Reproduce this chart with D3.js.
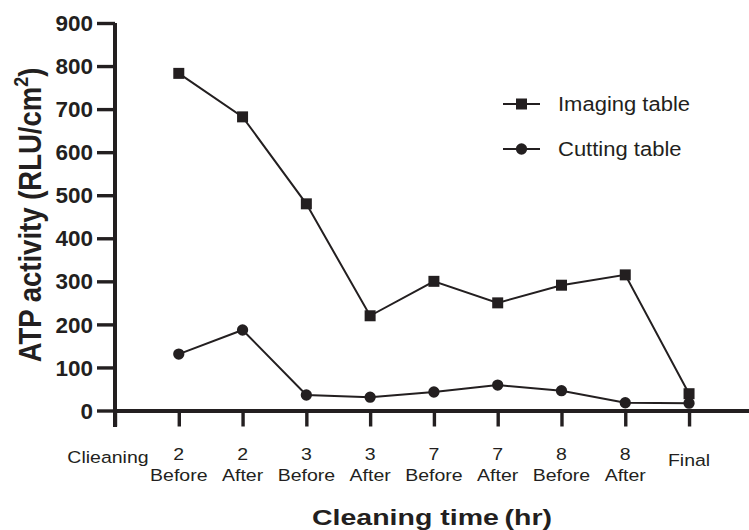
<!DOCTYPE html>
<html>
<head>
<meta charset="utf-8">
<script src="https://cdn.jsdelivr.net/npm/d3@7/dist/d3.min.js"></script>
<style>
  html, body { margin: 0; padding: 0; background: #fff; }
  svg { display: block; }
  text { font-family: Arial, "Liberation Sans", Helvetica, sans-serif; fill: #231f20; }
</style>
</head>
<body>
<svg id="chart" width="749" height="530"></svg>
<script>
/* ATP activity on imaging vs cutting table over the cleaning timeline */
const catTop    = ["Clieaning", "2", "2", "3", "3", "7", "7", "8", "8", "Final"];
const catBottom = ["", "Before", "After", "Before", "After", "Before", "After", "Before", "After", ""];
const imaging   = [null, 783, 682, 480, 220, 300, 250, 291, 315, 39];
const cutting   = [null, 131, 187, 36, 31, 43, 59, 46, 18, 17];
const yTicks    = [0, 100, 200, 300, 400, 500, 600, 700, 800, 900];
const seriesNames = ["Imaging table", "Cutting table"];

const INK = "#231f20";
const SQ = 0.88; // glyphs in the figure look slightly squashed vertically

const svg = d3.select("#chart");

const x = d3.scaleLinear().domain([0, 9.94]).range([115, 749]);
const y = d3.scaleLinear().domain([0, 900]).range([410.5, 23]);

/* y axis */
const gy = svg.append("g").attr("transform", `translate(${x(0)},0)`)
  .call(d3.axisLeft(y).tickValues(yTicks).tickSize(18).tickSizeOuter(0).tickPadding(4));
gy.select(".domain").remove();
gy.selectAll(".tick line").attr("stroke", INK).attr("stroke-width", 3.4);
gy.selectAll(".tick text")
  .attr("font-size", 22.5).attr("font-weight", "bold").attr("fill", INK)
  .attr("font-family", "Arial, 'Liberation Sans', sans-serif")
  .attr("transform", "scale(1,0.94)").attr("dy", "0.36em");
svg.append("line")
  .attr("x1", x(0)).attr("x2", x(0)).attr("y1", y(900)).attr("y2", 427)
  .attr("stroke", INK).attr("stroke-width", 4);

/* x axis */
const gx = svg.append("g").attr("transform", `translate(0,${y(0)})`)
  .call(d3.axisBottom(x).tickValues(d3.range(catTop.length)).tickSize(16).tickSizeOuter(0).tickFormat(""));
gx.select(".domain").attr("stroke", INK).attr("stroke-width", 4);
gx.selectAll(".tick line").attr("stroke", INK).attr("stroke-width", 3.4);

const labelG = svg.append("g").attr("font-size", 19.5);
catTop.forEach((t, i) => {
  const single = catBottom[i] === "";
  let cx = x(i), by = 460;
  if (i === 0) { cx = x(i) - 7; by = 463; }
  if (i === catTop.length - 1) by = 466;
  labelG.append("text")
    .attr("transform", `translate(${cx},${by}) scale(1,${SQ})`)
    .attr("text-anchor", "middle").text(t);
  if (!single) {
    labelG.append("text")
      .attr("transform", `translate(${x(i)},${481}) scale(1,${SQ})`)
      .attr("text-anchor", "middle").text(catBottom[i]);
  }
});

/* axis titles */
svg.append("text")
  .attr("transform", `translate(${x(0) + 317},${525}) scale(1,0.8)`)
  .attr("text-anchor", "middle").attr("font-size", 28.5).attr("font-weight", "bold")
  .text("Cleaning time\u2009(hr)");

const yt = svg.append("text")
  .attr("transform", `translate(41,${215}) scale(1.15,1) rotate(-90)`)
  .attr("text-anchor", "middle").attr("font-size", 27.5).attr("font-weight", "bold");
yt.append("tspan").text("ATP activity (RLU/cm");
yt.append("tspan").attr("font-size", 18).attr("dy", -11).text("2");
yt.append("tspan").attr("dy", 11).text(")");

/* series */
const series = [
  { name: seriesNames[0], values: imaging, shape: d3.symbolSquare, size: 121 },
  { name: seriesNames[1], values: cutting, shape: d3.symbolCircle, size: 100 }
];
const line = d3.line()
  .defined(d => d.v != null)
  .x(d => x(d.i)).y(d => y(d.v));

series.forEach(s => {
  const pts = s.values.map((v, i) => ({ i, v }));
  svg.append("path")
    .datum(pts)
    .attr("fill", "none").attr("stroke", INK).attr("stroke-width", 2)
    .attr("d", line);
  svg.append("g").selectAll("path")
    .data(pts.filter(d => d.v != null)).join("path")
    .attr("transform", d => `translate(${x(d.i)},${y(d.v)})`)
    .attr("d", d3.symbol(s.shape, s.size))
    .attr("fill", INK);
});

/* legend */
const lg = svg.append("g").attr("transform", "translate(503,104)");
series.forEach((s, k) => {
  const row = lg.append("g").attr("transform", `translate(0,${k * 45})`);
  row.append("line").attr("x1", 0).attr("x2", 37).attr("stroke", INK).attr("stroke-width", 1.8);
  row.append("path").attr("transform", "translate(18.5,0)")
    .attr("d", d3.symbol(s.shape, s.size)).attr("fill", INK);
  row.append("text")
    .attr("transform", `translate(55,7) scale(1,${SQ})`)
    .attr("font-size", 22).text(s.name);
});
</script>
</body>
</html>
